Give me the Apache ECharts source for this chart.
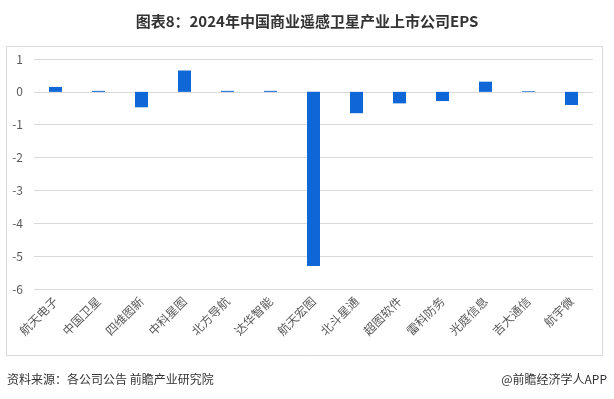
<!DOCTYPE html>
<html>
<head>
<meta charset="utf-8">
<script src="https://cdn.jsdelivr.net/npm/echarts@6/dist/echarts.min.js"></script>
<style>
html,body{margin:0;padding:0;background:#fff;}
#c{width:614px;height:399px;}
</style>
</head>
<body>
<div id="c"></div>
<script>
var categories = ['航天电子','中国卫星','四维图新','中科星图','北方导航','达华智能','航天宏图','北斗星通','超图软件','雷科防务','光庭信息','吉大通信','航宇微'];
var eps = [0.15, 0.03, -0.47, 0.65, 0.03, 0.03, -5.3, -0.65, -0.35, -0.28, 0.31, 0.02, -0.4];
var yTicks = [-6, -5, -4, -3, -2, -1, 0, 1];

var chart = echarts.init(document.getElementById('c'), null, {renderer: 'canvas'});
var font = '"Noto Sans CJK SC", "Noto Sans", sans-serif';
chart.setOption({
  animation: false,
  backgroundColor: '#fff',
  title: {
    text: '图表8：2024年中国商业遥感卫星产业上市公司EPS',
    left: 'center', top: 9,
    textStyle: {fontFamily: font, fontSize: 15, fontWeight: 'bold', color: '#333'}
  },
  graphic: [
    {type: 'rect', left: 4, top: 44, shape: {width: 596, height: 309},
     style: {fill: 'none', stroke: '#d9d9d9', lineWidth: 1}},
    {type: 'text', left: 7, top: 373,
     style: {text: '资料来源：各公司公告 前瞻产业研究院', font: '12px ' + font, fill: '#333'}},
    {type: 'text', right: 7, top: 373,
     style: {text: '@前瞻经济学人APP', font: '12px ' + font, fill: '#333'}}
  ],
  grid: {left: 34, right: 21, top: 59, bottom: 110},
  xAxis: {
    type: 'category',
    data: categories,
    axisLine: {show: false, onZero: false},
    axisTick: {show: false},
    axisLabel: {rotate: 45, interval: 0, margin: 10, color: '#595959', fontSize: 12, fontFamily: font}
  },
  yAxis: {
    type: 'value',
    min: -6, max: 1, interval: 1,
    axisLine: {show: false},
    axisTick: {show: false},
    axisLabel: {color: '#595959', fontSize: 12, fontFamily: font, margin: 11,
      formatter: function (v) { return yTicks.indexOf(v) >= 0 ? String(v) : ''; }},
    splitLine: {lineStyle: {color: '#d9d9d9', width: 1}}
  },
  series: [{
    type: 'bar',
    data: eps,
    barWidth: 13,
    itemStyle: {color: '#0f66d6'}
  }]
});
</script>
</body>
</html>
